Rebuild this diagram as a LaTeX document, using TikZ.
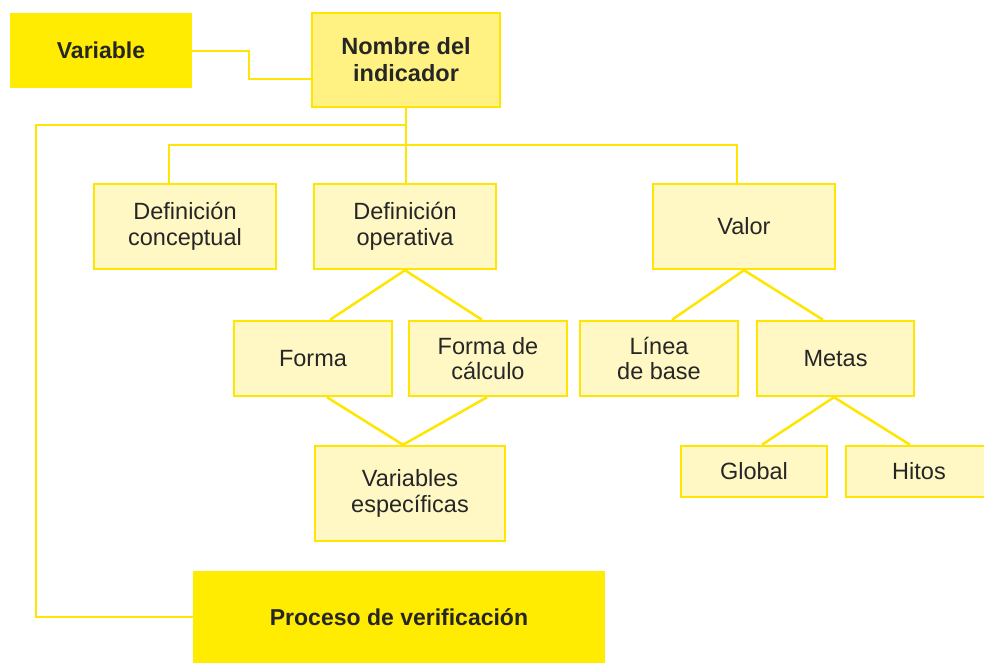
\documentclass[tikz,border=0pt]{standalone}
\usepackage{fontspec}
\setmainfont{Liberation Sans}
\definecolor{ybright}{HTML}{FFEC00}
\definecolor{yline}{HTML}{FFE600}
\definecolor{ylight}{HTML}{FFF8C4}
\definecolor{ymid}{HTML}{FFF282}
\definecolor{txt}{HTML}{262626}
\tikzset{
  base/.style={rectangle, align=center, text=txt, inner sep=2pt,
    font=\fontsize{23.5}{25.5}\selectfont},
  lbox/.style={base, draw=yline, line width=2.5pt, fill=ylight},
  midbox/.style={base, draw=yline, line width=2.5pt, fill=ymid,
    font=\fontsize{23.5}{27}\selectfont\bfseries},
  solidbox/.style={base, fill=ybright, font=\fontsize{23}{25}\selectfont\bfseries},
  conn/.style={draw=yline, line width=2.5pt}
}
\begin{document}
\begin{tikzpicture}[x=1pt,y=-1pt]
\clip (0,0) rectangle (984,663);
\fill[white] (0,0) rectangle (984,663);
% nodes
\node[solidbox, minimum width=182, minimum height=75] (var) at (101,50.5) {Variable};
\node[midbox, minimum width=188, minimum height=94] (nom) at (406,60) {Nombre del\\indicador};
\node[lbox, minimum width=182, minimum height=85] (dc) at (185,226.5) {Definición\\conceptual};
\node[lbox, minimum width=182, minimum height=85] (do) at (405,226.5) {Definición\\operativa};
\node[lbox, minimum width=182, minimum height=85] (val) at (744,226.5) {Valor};
\node[lbox, minimum width=158, minimum height=75] (forma) at (313,358.5) {Forma};
\node[lbox, minimum width=158, minimum height=75] (fc) at (488,358.5) {Forma de\\cálculo};
\node[lbox, minimum width=190, minimum height=95] (ve) at (410,493.5) {Variables\\específicas};
\node[lbox, minimum width=158, minimum height=75] (lb) at (659,358.5) {Línea\\de base};
\node[lbox, minimum width=157, minimum height=75] (metas) at (835.5,358.5) {Metas};
\node[lbox, minimum width=146, minimum height=51] (glob) at (754,471.5) {Global};
\node[lbox, minimum width=146, minimum height=51] (hitos) at (919,471.5) {Hitos};
\node[solidbox, minimum width=412, minimum height=92] (proc) at (399,617) {Proceso de verificación};
% connectors
\coordinate (vb1) at (249,51);
\coordinate (vb2) at (249,79);
\draw[conn] (var.east |- vb1) -- (vb1) -- (vb2) -- (nom.west |- vb2);
\draw[conn] (nom.south) -- (nom.south |- do.north);
\coordinate (lt) at (36,125);
\draw[conn] (nom.south |- lt) -- (lt) |- (proc.west);
\coordinate (bl) at (169,145);
\coordinate (br) at (737,145);
\draw[conn] (dc.north -| bl) -- (bl) -- (br) -- (val.north -| br);
% definicion operativa diamond
\draw[conn] ([xshift=17pt]forma.north) -- (do.south) -- ([xshift=-6pt]fc.north);
\draw[conn] ([xshift=14pt]forma.south) -- ([xshift=-7pt]ve.north) -- ([xshift=-1pt]fc.south);
% valor
\draw[conn] ([xshift=13pt]lb.north) -- (val.south) -- ([xshift=-12.5pt]metas.north);
\draw[conn] ([xshift=8pt]glob.north) -- ([xshift=-1.5pt]metas.south) -- ([xshift=-9pt]hitos.north);
\end{tikzpicture}
\end{document}
